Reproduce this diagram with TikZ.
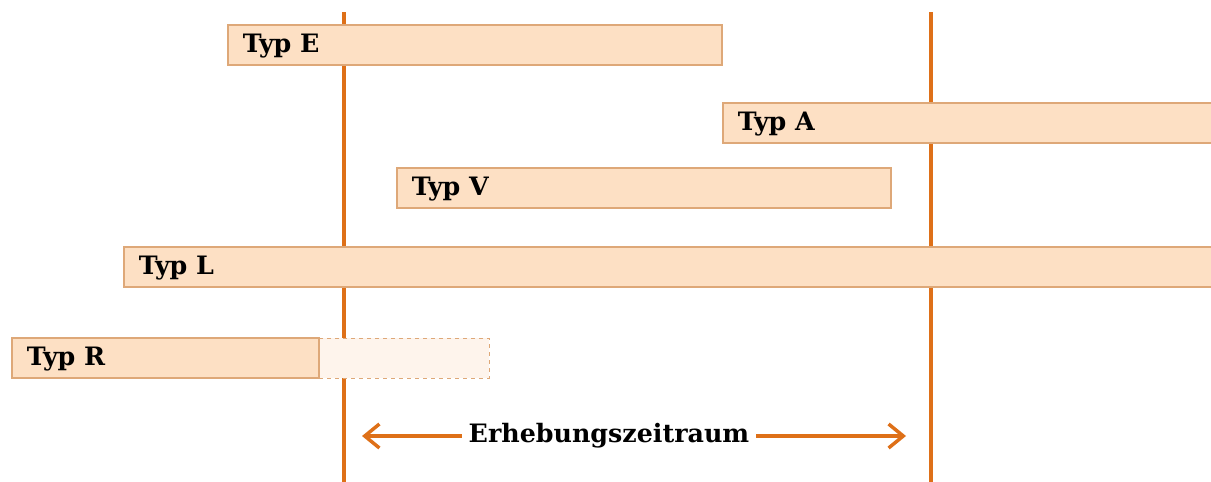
\documentclass[tikz,border=0pt]{standalone}
\usepackage{fontspec}
\setmainfont{DejaVu Serif}
\usetikzlibrary{arrows.meta}
\definecolor{lineor}{RGB}{222,112,24}
\definecolor{barfill}{RGB}{253,224,196}
\definecolor{barline}{RGB}{222,168,120}
\definecolor{ghostfill}{RGB}{254,244,236}
\tikzset{
  vline/.style={draw=lineor,line width=2.8pt},
  bar/.style={draw=barline,fill=barfill,line width=0.8pt,minimum height=30pt,inner sep=0pt,outer sep=0pt},
  ghost/.style={draw=barline,fill=ghostfill,dashed,line width=0.6pt,minimum height=30pt,inner sep=0pt,outer sep=0pt},
  lbl/.style={font=\bfseries\fontsize{19}{22}\selectfont,anchor=west,inner sep=0pt},
  arr/.style={draw=lineor,line width=2.6pt,-{Straight Barb[length=11pt,width=18pt,line width=2.6pt]}}
}
\begin{document}
\begin{tikzpicture}[x=0.75pt,y=-0.75pt]
\useasboundingbox (0,0) rectangle (1211,482);
\clip (0,0) rectangle (1211,482);
% vertical lines
\coordinate (v1t) at (344,12);
\coordinate (v1b) at (344,482);
\coordinate (v2t) at (931,12);
\coordinate (v2b) at (931,482);
\draw[vline] (v1t) -- (v1b);
\draw[vline] (v2t) -- (v2b);
% bars
\node[bar,minimum width=494*0.75pt] (E) at (475,45) {};
\node[bar,minimum width=520*0.75pt] (A) at (983,123) {};
\node[bar,minimum width=494*0.75pt] (V) at (644,188) {};
\node[bar,minimum width=1120*0.75pt] (L) at (684,267) {};
\node[ghost,minimum width=170*0.75pt] (Rg) at (404,358) {};
\node[bar,minimum width=307*0.75pt] (R) at (165.5,358) {};
\node[lbl] (tE) at ([xshift=11pt,yshift=-1pt]E.west) {Typ E};
\node[lbl] (tA) at ([xshift=11pt,yshift=-1pt]A.west) {Typ A};
\node[lbl] (tV) at ([xshift=11pt,yshift=-1pt]V.west) {Typ V};
\node[lbl] (tL) at ([xshift=11pt,yshift=-1pt]L.west) {Typ L};
\node[lbl] (tR) at ([xshift=11pt,yshift=-1pt]R.west) {Typ R};
% arrow
\node[lbl,anchor=center,inner xsep=5pt] (T) at (609,436) {Erhebungszeitraum};
\coordinate (al) at (362,436);
\coordinate (ar) at (906,436);
\draw[arr] (T.west) -- (al);
\draw[arr] (T.east) -- (ar);
\end{tikzpicture}
\end{document}
